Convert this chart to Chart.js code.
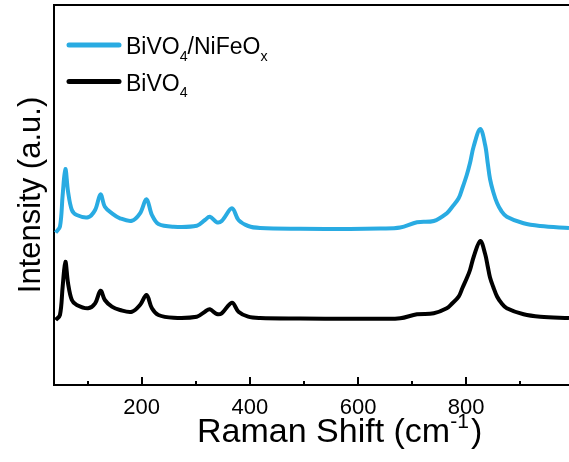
<!DOCTYPE html>
<html>
<head>
<meta charset="utf-8">
<script src="https://cdn.jsdelivr.net/npm/chart.js@4.4.0/dist/chart.umd.min.js"></script>
<style>
  html, body { margin: 0; padding: 0; background: #fff; }
  #wrap { width: 569px; height: 462px; position: relative; }
</style>
</head>
<body>
<div id="wrap"><canvas id="ramanChart"></canvas></div>
<script>
// Raman shift (cm-1)
const ramanShift = [41, 49, 54, 59, 64, 71, 80, 101, 114, 124, 132, 145, 160, 182, 197, 209, 219, 231, 259, 302,
    317, 326, 339, 348, 367, 379, 397, 419, 493, 585, 641, 678, 709,
    740, 764, 774, 786, 793, 801, 807, 814, 826, 835, 840, 844, 850, 857, 865, 875, 906, 937, 990];

// intensities (a.u.), offset spectra as plotted
const bivo4NiFeOx = [1523, 1583, 1900, 2160, 1933, 1750, 1700, 1677, 1750, 1907, 1783, 1717, 1667, 1643, 1717, 1857, 1700, 1610, 1583, 1593,
    1650, 1683, 1627, 1640, 1767, 1650, 1590, 1570, 1562, 1560, 1565, 1575, 1627,
    1640, 1717, 1780, 1867, 1970, 2100, 2220, 2390, 2560, 2400, 2210, 2060, 1930, 1820, 1740, 1683, 1617, 1590, 1570];
const bivo4 = [650, 700, 983, 1233, 1017, 850, 800, 767, 817, 943, 850, 783, 750, 733, 800, 900, 767, 700, 673, 683,
    733, 757, 710, 717, 823, 733, 683, 670, 665, 662, 662, 667, 707,
    717, 767, 815, 883, 970, 1067, 1150, 1285, 1440, 1310, 1180, 1075, 980, 885, 820, 767, 707, 683, 670];

const xTicks = [200, 400, 600, 800];
const xMinorTicks = [100, 300, 500, 700, 900];

const blue = '#29abe2';
const fontFam = '"Liberation Sans", Arial, sans-serif';

// legend / title pieces: [text, 'sub' | 'sup' | '']
const legendItems = [
    { color: blue, parts: [['BiVO', ''], ['4', 'sub'], ['/NiFeO', ''], ['x', 'sub']] },
    { color: '#000', parts: [['BiVO', ''], ['4', 'sub']] }
];
const xTitleParts = [['Raman Shift (cm', ''], ['-1', 'sup'], [')', '']];

function drawRich(ctx, parts, x, y, size) {
    let cx = x;
    parts.forEach(([txt, kind]) => {
        let s = size, dy = 0;
        if (kind === 'sub') { s = size * 0.62; dy = size * 0.3; }
        if (kind === 'sup') { s = size * 0.62; dy = -size * 0.42; }
        ctx.font = s + 'px ' + fontFam;
        ctx.fillText(txt, cx, y + dy);
        cx += ctx.measureText(txt).width;
        if (kind === 'sup') cx += 2;
    });
}

const ramanDecor = {
    id: 'ramanDecor',
    afterDraw(chart) {
        const ctx = chart.ctx;
        const area = chart.chartArea;
        const xs = chart.scales.x;
        ctx.save();
        ctx.strokeStyle = '#000';
        ctx.lineWidth = 2;

        // top frame line
        ctx.beginPath();
        ctx.moveTo(area.left, area.top);
        ctx.lineTo(area.right, area.top);
        ctx.stroke();

        // inward ticks
        xTicks.forEach(v => {
            const px = Math.round(xs.getPixelForValue(v));
            ctx.beginPath();
            ctx.moveTo(px, area.bottom);
            ctx.lineTo(px, area.bottom - 8);
            ctx.stroke();
        });
        xMinorTicks.forEach(v => {
            const px = Math.round(xs.getPixelForValue(v));
            ctx.beginPath();
            ctx.moveTo(px, area.bottom);
            ctx.lineTo(px, area.bottom - 4);
            ctx.stroke();
        });

        // legend
        ctx.textBaseline = 'alphabetic';
        ctx.textAlign = 'left';
        legendItems.forEach((item, i) => {
            const y = 45 + i * 36.5;
            ctx.strokeStyle = item.color;
            ctx.lineWidth = 5;
            ctx.lineCap = 'round';
            ctx.beginPath();
            ctx.moveTo(69, y);
            ctx.lineTo(119, y);
            ctx.stroke();
            ctx.fillStyle = '#000';
            drawRich(ctx, item.parts, 126, y + 9, 23);
        });

        // x axis title
        ctx.fillStyle = '#000';
        drawRich(ctx, xTitleParts, 197, 442, 34);
        ctx.restore();
    }
};

new Chart(document.getElementById('ramanChart'), {
    type: 'line',
    data: {
        datasets: [
            {
                label: 'BiVO4/NiFeOx',
                data: ramanShift.map((x, i) => ({ x: x, y: bivo4NiFeOx[i] })),
                borderColor: blue,
                borderWidth: 4,
                pointRadius: 0,
                tension: 0.35,
                fill: false
            },
            {
                label: 'BiVO4',
                data: ramanShift.map((x, i) => ({ x: x, y: bivo4[i] })),
                borderColor: '#000',
                borderWidth: 4,
                pointRadius: 0,
                tension: 0.35,
                fill: false
            }
        ]
    },
    options: {
        responsive: true,
        maintainAspectRatio: false,
        animation: false,
        layout: { padding: { top: 5, right: 0, bottom: 0, left: 0 } },
        plugins: {
            legend: { display: false },
            tooltip: { enabled: false }
        },
        scales: {
            x: {
                type: 'linear',
                min: 38,
                max: 990,
                grid: { display: false },
                border: { display: true, color: '#000', width: 2 },
                afterBuildTicks: s => { s.ticks = xTicks.map(v => ({ value: v })); },
                afterFit: s => { s.height = 77; },
                ticks: {
                    color: '#000',
                    padding: 2,
                    maxRotation: 0,
                    font: { family: fontFam, size: 22 }
                }
            },
            y: {
                min: 0,
                max: 3800,
                grid: { display: false },
                border: { display: true, color: '#000', width: 2 },
                ticks: { display: false },
                afterFit: s => { s.width = 54; },
                title: {
                    display: true,
                    text: 'Intensity (a.u.)',
                    color: '#000',
                    padding: { top: 13, bottom: 0 },
                    font: { family: fontFam, size: 31, weight: 'normal' }
                }
            }
        }
    },
    plugins: [ramanDecor]
});
</script>
</body>
</html>
